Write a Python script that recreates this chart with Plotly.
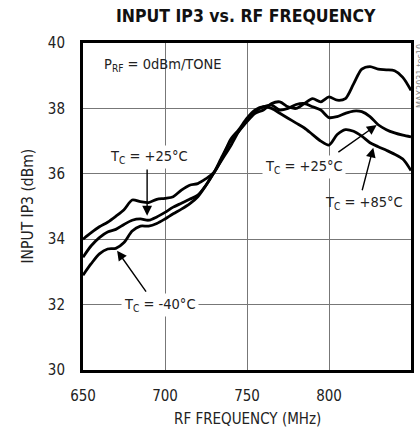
import plotly.graph_objects as go

# RF frequency sweep (MHz)
freq_mhz = list(range(650, 851, 5))

# Input IP3 (dBm) at each case temperature
ip3_p85 = [34.00, 34.20, 34.38, 34.52, 34.70, 34.90, 35.20, 35.15, 35.12, 35.22,
           35.25, 35.30, 35.50, 35.65, 35.70, 35.85, 36.05, 36.50, 37.05, 37.35,
           37.70, 37.95, 38.05, 38.00, 37.85, 37.70, 37.55, 37.40, 37.20, 37.00,
           36.88, 37.20, 37.35, 37.30, 37.15, 36.95, 36.83, 36.72, 36.60, 36.45,
           36.10]
ip3_p25 = [33.45, 33.80, 34.05, 34.22, 34.30, 34.45, 34.58, 34.62, 34.58, 34.68,
           34.82, 34.98, 35.10, 35.22, 35.35, 35.65, 36.05, 36.45, 36.85, 37.30,
           37.65, 37.90, 38.05, 38.10, 37.95, 38.00, 38.12, 38.15, 38.05, 37.95,
           37.72, 37.75, 37.85, 37.92, 37.90, 37.75, 37.50, 37.35, 37.25, 37.18,
           37.13]
ip3_m40 = [32.90, 33.25, 33.55, 33.70, 33.72, 33.90, 34.25, 34.40, 34.40, 34.48,
           34.62, 34.78, 34.92, 35.08, 35.30, 35.65, 36.05, 36.55, 37.00, 37.30,
           37.60, 37.85, 37.95, 38.15, 38.20, 38.05, 38.00, 38.15, 38.30, 38.20,
           38.35, 38.25, 38.30, 38.75, 39.20, 39.28, 39.20, 39.18, 39.15, 38.95,
           38.55]

x_ticks = [650, 700, 750, 800, 850]
y_ticks = [30, 32, 34, 36, 38, 40]

FONT = "DejaVu Sans Condensed, Liberation Sans Narrow, Arial Narrow, sans-serif"
INK = "#222"

fig = go.Figure()
for vals in (ip3_p85, ip3_p25, ip3_m40):
    fig.add_trace(go.Scatter(
        x=freq_mhz, y=vals, mode="lines",
        line=dict(color="black", width=2.8, shape="spline", smoothing=0.8),
        showlegend=False, hoverinfo="skip",
    ))

ann_font = dict(family=FONT, size=14.5, color=INK)

def label(x, y, text, bg="white", **kw):
    fig.add_annotation(x=x, y=y, text=text, showarrow=False, font=ann_font,
                       bgcolor=bg, borderpad=2, **kw)

def arrow(x0, y0, x1, y1):
    fig.add_annotation(x=x1, y=y1, ax=x0, ay=y0, axref="x", ayref="y",
                       text="", showarrow=True, arrowhead=2, arrowsize=1.4,
                       arrowwidth=1.4, arrowcolor="black")

label(660.7, 39.33, "P<sub>RF</sub> = 0dBm/TONE", bg="rgba(0,0,0,0)", xanchor="left")
label(690, 36.5, "T<sub>C</sub> = +25°C")
arrow(689.1, 36.18, 689.1, 34.72)
label(697, 31.98, "T<sub>C</sub> = -40°C")
arrow(689.1, 32.35, 670.8, 33.65)
label(784.5, 36.2, "T<sub>C</sub> = +25°C")
arrow(804.8, 36.63, 829.1, 37.49)
label(821.4, 35.1, "T<sub>C</sub> = +85°C", bg="rgba(0,0,0,0)")
arrow(820.0, 35.45, 827.0, 36.8)

# axis titles and the part number along the right edge
fig.add_annotation(xref="paper", yref="paper", x=0, y=0.5, xshift=-67,
                   text="INPUT IP3 (dBm)", textangle=-90, showarrow=False,
                   font=dict(family=FONT, size=15.5, color=INK))
fig.add_annotation(xref="paper", yref="paper", x=0.5, y=0, yshift=-49,
                   yanchor="middle", text="RF FREQUENCY (MHz)", showarrow=False,
                   font=dict(family=FONT, size=15, color=INK))
fig.add_annotation(xref="paper", yref="paper", x=1, y=1, xshift=9, yshift=1,
                   yanchor="top", xanchor="center",
                   text="MAX2031 toc10", textangle=-90, showarrow=False,
                   font=dict(family=FONT, size=9, color="#888"))

axis_common = dict(showgrid=True, gridcolor="#777", gridwidth=1,
                   showline=True, linecolor="black", linewidth=3, mirror=True,
                   zeroline=False, ticks="", automargin=False,
                   tickfont=dict(family=FONT, size=15, color=INK))

fig.update_xaxes(range=[650, 850], tickvals=x_ticks, ticklabelstandoff=10,
                 **axis_common)
fig.update_yaxes(range=[30, 40], tickvals=y_ticks, ticklabelstandoff=12,
                 **axis_common)

fig.update_layout(
    width=420, height=432,
    margin=dict(l=83, r=9, t=43, b=62),
    paper_bgcolor="white", plot_bgcolor="white",
    title=dict(text="<b>INPUT IP3 vs. RF FREQUENCY</b>", x=0.585, xanchor="center",
               y=1 - 16 / 432, yanchor="middle",
               font=dict(family=FONT, size=17.5, color="#111")),
)

fig.write_html("out.html")
